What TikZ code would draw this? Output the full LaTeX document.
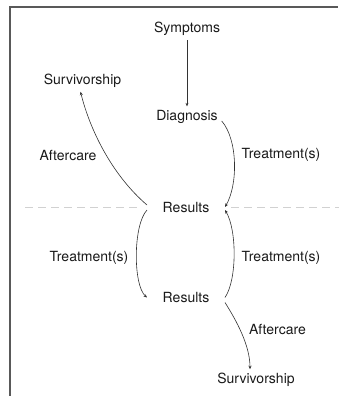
\documentclass[tikz,border=0pt]{standalone}
\usepackage{fontspec}
\setmainfont{TeX Gyre Heros}
\usetikzlibrary{arrows.meta}

\tikzset{
  stage/.style={font=\fontsize{14}{16}\selectfont, text=black!90, inner sep=4pt, outer sep=0pt},
  result/.style={stage, minimum width=78pt},
  lbl/.style={font=\fontsize{14}{16}\selectfont, text=black!90, inner sep=0pt},
  flow/.style={draw=black!80, line width=0.6pt, -{Stealth[length=3.5pt,width=3pt]}},
}

\begin{document}
\begin{tikzpicture}[x=1pt,y=1pt]
\useasboundingbox (0,0) rectangle (339,-396);
% frame
\draw[black!65,line width=1.5pt](10,-396)--(10,-7)--(338,-7);
% stages
\node[stage] (sym) at (187,-28.5) {Symptoms};
\node[stage] (diag) at (187,-117) {Diagnosis};
\node[stage] (surv1) at (82.5,-81) {Survivorship};
\node[result] (res1) at (186,-207) {Results};
\node[result] (res2) at (186,-297.5) {Results};
\node[stage] (surv2) at (256,-380) {Survivorship};
% labels
\node[lbl] (after1) at (68,-155) {Aftercare};
\node[lbl] (treat1) at (281,-155) {Treatment(s)};
\node[lbl] (treat2) at (89,-258) {Treatment(s)};
\node[lbl] (treat3) at (281,-258) {Treatment(s)};
\node[lbl] (after2) at (277.5,-329) {Aftercare};
% dashed divider
\draw[black!18,line width=0.8pt,dash pattern=on 8pt off 5pt](25,-207)--([xshift=-10pt]res1.west);
\draw[black!18,line width=0.8pt,dash pattern=on 8pt off 5pt]([xshift=6pt]res1.east)--(339,-207);
% connectors
\draw[flow]([yshift=-1pt]sym.south)--(diag.north);
\draw[flow]([yshift=-4pt]diag.east) .. controls (238,-140) and (238,-185) .. (res1.east);
\draw[flow]([yshift=2pt]res1.west) .. controls (112,-175) and (90,-130) .. ([xshift=-2pt]surv1.south);
\draw[flow]([yshift=-3pt]res1.west) .. controls (133,-225) and (133,-285) .. (res2.west);
\draw[flow](res2.east) .. controls (237,-280) and (237,-230) .. ([yshift=-3pt]res1.east);
\draw[flow]([yshift=-5pt]res2.east) .. controls (236,-320) and (250,-345) .. ([xshift=-6pt]surv2.north);
\end{tikzpicture}
\end{document}
